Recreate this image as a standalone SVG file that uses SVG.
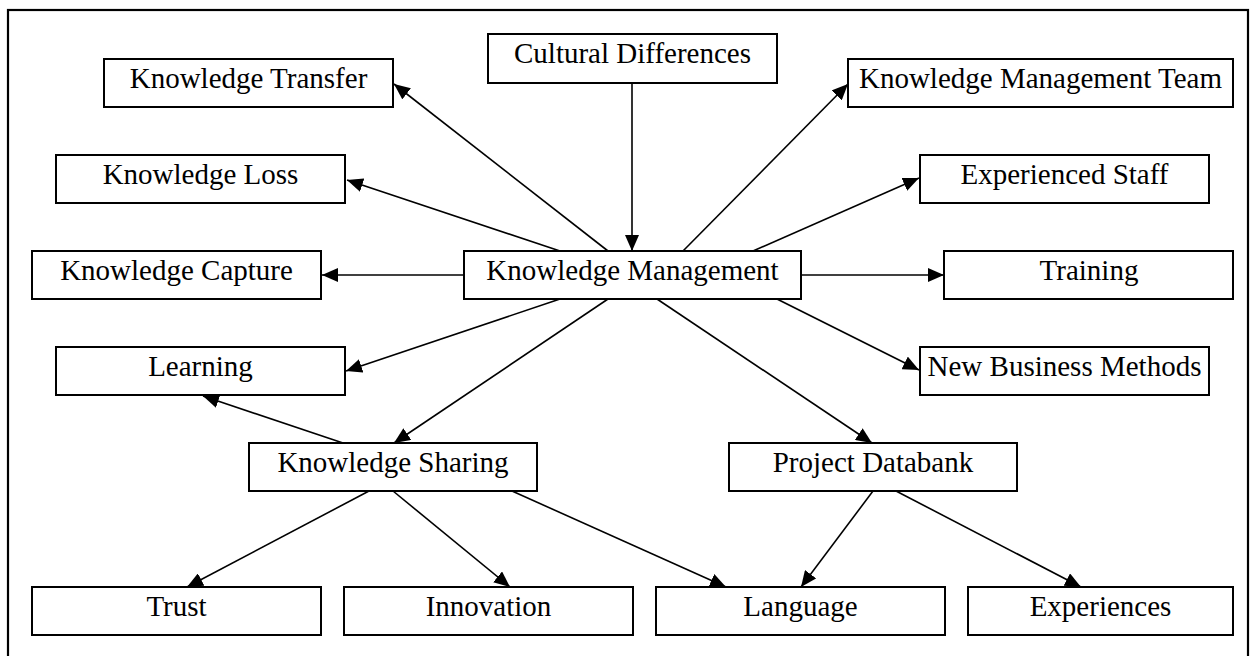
<svg xmlns="http://www.w3.org/2000/svg" width="1256" height="656" viewBox="0 0 1256 656">
<style>
.box{fill:#fff;stroke:#000;stroke-width:2}
.lbl{font-family:"Liberation Serif","Times New Roman",serif;font-size:29px;fill:#000;text-anchor:middle}
.c{stroke:#000;stroke-width:1.6;fill:none;marker-end:url(#ah)}
</style>
<defs>
<marker id="ah" markerUnits="userSpaceOnUse" markerWidth="16" markerHeight="14" refX="16" refY="7" orient="auto" viewBox="0 0 16 14">
<path d="M0,0 L16,7 L0,14 Z" fill="#000"/>
</marker>
</defs>
<rect width="1256" height="656" fill="#fff"/>
<rect x="8" y="10" width="1240" height="700" fill="none" stroke="#000" stroke-width="2.2"/>
<g id="connectors">
<line class="c" x1="632" y1="83" x2="632" y2="251"/>
<line class="c" x1="608" y1="251" x2="394" y2="84"/>
<line class="c" x1="560" y1="251" x2="347" y2="180"/>
<line class="c" x1="683" y1="251" x2="848" y2="84"/>
<line class="c" x1="753" y1="251" x2="919" y2="178"/>
<line class="c" x1="464" y1="275" x2="322" y2="275"/>
<line class="c" x1="801" y1="275" x2="944" y2="275"/>
<line class="c" x1="560" y1="299" x2="346" y2="371"/>
<line class="c" x1="608" y1="299" x2="394" y2="443"/>
<line class="c" x1="657" y1="299" x2="872" y2="443"/>
<line class="c" x1="777" y1="299" x2="919" y2="370"/>
<line class="c" x1="343" y1="443" x2="203" y2="396"/>
<line class="c" x1="369" y1="491" x2="187" y2="587"/>
<line class="c" x1="393" y1="491" x2="510" y2="587"/>
<line class="c" x1="512" y1="491" x2="726" y2="587"/>
<line class="c" x1="873" y1="491" x2="801" y2="587"/>
<line class="c" x1="896" y1="491" x2="1081" y2="587"/>
</g>
<g id="cultural-differences"><rect class="box" x="488" y="34" width="289" height="49"/><text class="lbl" x="632.5" y="63">Cultural Differences</text></g>
<g id="knowledge-transfer"><rect class="box" x="104" y="59" width="289" height="48"/><text class="lbl" x="248.5" y="88">Knowledge Transfer</text></g>
<g id="knowledge-management-team"><rect class="box" x="848" y="59" width="385" height="48"/><text class="lbl" x="1040.5" y="88">Knowledge Management Team</text></g>
<g id="knowledge-loss"><rect class="box" x="56" y="155" width="289" height="48"/><text class="lbl" x="200.5" y="184">Knowledge Loss</text></g>
<g id="experienced-staff"><rect class="box" x="920" y="155" width="289" height="48"/><text class="lbl" x="1064.5" y="184">Experienced Staff</text></g>
<g id="knowledge-capture"><rect class="box" x="32" y="251" width="289" height="48"/><text class="lbl" x="176.5" y="280">Knowledge Capture</text></g>
<g id="knowledge-management"><rect class="box" x="464" y="251" width="337" height="48"/><text class="lbl" x="632.5" y="280">Knowledge Management</text></g>
<g id="training"><rect class="box" x="944" y="251" width="289" height="48"/><text class="lbl" x="1089" y="280">Training</text></g>
<g id="learning"><rect class="box" x="56" y="347" width="289" height="48"/><text class="lbl" x="200.5" y="376">Learning</text></g>
<g id="new-business-methods"><rect class="box" x="920" y="347" width="289" height="48"/><text class="lbl" x="1064.5" y="376">New Business Methods</text></g>
<g id="knowledge-sharing"><rect class="box" x="249" y="443" width="288" height="48"/><text class="lbl" x="393" y="472">Knowledge Sharing</text></g>
<g id="project-databank"><rect class="box" x="729" y="443" width="288" height="48"/><text class="lbl" x="873" y="472">Project Databank</text></g>
<g id="trust"><rect class="box" x="32" y="587" width="289" height="48"/><text class="lbl" x="176.5" y="616">Trust</text></g>
<g id="innovation"><rect class="box" x="344" y="587" width="289" height="48"/><text class="lbl" x="488.5" y="616">Innovation</text></g>
<g id="language"><rect class="box" x="656" y="587" width="289" height="48"/><text class="lbl" x="800.5" y="616">Language</text></g>
<g id="experiences"><rect class="box" x="968" y="587" width="265" height="48"/><text class="lbl" x="1100.5" y="616">Experiences</text></g>
</svg>
